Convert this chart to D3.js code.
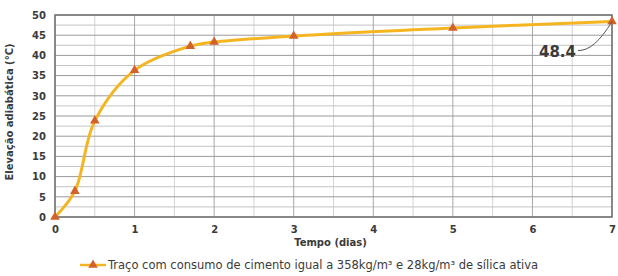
<!DOCTYPE html>
<html>
<head>
<meta charset="utf-8">
<script src="https://cdn.jsdelivr.net/npm/d3@7"></script>
<style>
  body { margin: 0; background: #fff; }
  text { font-family: "DejaVu Sans", sans-serif; font-weight: bold; fill: #3a3a3a; }
</style>
</head>
<body>
<div id="chart"></div>
<script>
// data
const days = [0, 0.25, 0.5, 1, 1.7, 2, 3, 5, 7];
const temps = [0, 6.4, 23.8, 36.3, 42.3, 43.3, 44.8, 46.8, 48.4];
const xTicks = [0, 1, 2, 3, 4, 5, 6, 7];
const yTicks = [0, 5, 10, 15, 20, 25, 30, 35, 40, 45, 50];
const seriesName = "Traço com consumo de cimento igual a 358kg/m³ e 28kg/m³ de sílica ativa";

const W = 618, H = 276;
const margin = {top: 15, right: 6, bottom: 59, left: 55};
const width = W - margin.left - margin.right;
const height = H - margin.top - margin.bottom;

const svg = d3.select("#chart").append("svg")
    .attr("width", W)
    .attr("height", H);

const g = svg.append("g")
    .attr("transform", "translate(" + margin.left + "," + margin.top + ")");

const x = d3.scaleLinear().domain([0, 7]).range([0, width]);
const y = d3.scaleLinear().domain([0, 50]).range([height, 0]);

// minor grid
g.selectAll(".vminor")
    .data(d3.range(0.5, 7, 1))
    .enter().append("line")
    .attr("x1", d => x(d)).attr("x2", d => x(d))
    .attr("y1", 0).attr("y2", height)
    .attr("stroke", "#d4d4d4").attr("stroke-width", 1);

g.selectAll(".hminor")
    .data(d3.range(2.5, 50, 5))
    .enter().append("line")
    .attr("x1", 0).attr("x2", width)
    .attr("y1", d => y(d)).attr("y2", d => y(d))
    .attr("stroke", "#c4c4c4").attr("stroke-width", 1);

// major grid
g.selectAll(".vmajor")
    .data(xTicks)
    .enter().append("line")
    .attr("x1", d => x(d)).attr("x2", d => x(d))
    .attr("y1", 0).attr("y2", height)
    .attr("stroke", "#a8a8a8").attr("stroke-width", 1);

g.selectAll(".hmajor")
    .data(yTicks)
    .enter().append("line")
    .attr("x1", 0).attr("x2", width)
    .attr("y1", d => y(d)).attr("y2", d => y(d))
    .attr("stroke", "#9a9a9a").attr("stroke-width", 1);

// frame
g.append("rect")
    .attr("width", width).attr("height", height)
    .attr("fill", "none").attr("stroke", "#707070").attr("stroke-width", 1.5);

// axes
const xAxis = d3.axisBottom(x).tickValues(xTicks).tickFormat(d3.format("d")).tickSize(0).tickPadding(9);
const yAxis = d3.axisLeft(y).tickValues(yTicks).tickFormat(d3.format("d")).tickSize(0).tickPadding(9);

g.append("g")
    .attr("transform", "translate(0," + height + ")")
    .call(xAxis)
    .call(a => a.select(".domain").remove())
    .selectAll("text").style("font-size", "10px");

g.append("g")
    .call(yAxis)
    .call(a => a.select(".domain").remove())
    .selectAll("text").style("font-size", "10px");

svg.append("text")
    .attr("x", margin.left + width / 2 - 3)
    .attr("y", 246)
    .attr("text-anchor", "middle")
    .style("font-size", "10px")
    .text("Tempo (dias)");

svg.append("text")
    .attr("transform", "translate(13," + (margin.top + height / 2 - 4) + ") rotate(-90)")
    .attr("text-anchor", "middle")
    .style("font-size", "10px")
    .text("Elevação adiabática (°C)");

// series
const pts = days.map((d, i) => ({d: d, t: temps[i]}));

const line = d3.line()
    .x(p => x(p.d))
    .y(p => y(p.t))
    .curve(d3.curveCatmullRom.alpha(0.5));

g.append("path")
    .datum(pts)
    .attr("fill", "none")
    .attr("stroke", "#f4b521")
    .attr("stroke-width", 3)
    .attr("d", line);

const tri = d3.symbol().type(d3.symbolTriangle).size(40);

g.selectAll(".mk")
    .data(pts)
    .enter().append("path")
    .attr("d", tri)
    .attr("transform", p => "translate(" + x(p.d) + "," + y(p.t) + ")")
    .attr("fill", "#d2622a");

// data label with leader
const last = pts[pts.length - 1];
g.append("path")
    .attr("d", "M" + (x(last.d) - 34) + "," + (y(last.t) + 29) +
               " Q" + (x(last.d) - 18) + "," + (y(last.t) + 30) + " " + x(last.d) + "," + y(last.t))
    .attr("fill", "none").attr("stroke", "#555").attr("stroke-width", 1);

g.append("text")
    .attr("x", x(last.d) - 36)
    .attr("y", y(last.t) + 36)
    .attr("text-anchor", "end")
    .style("font-size", "15px")
    .text(d3.format(".1f")(last.t));

// legend
const lg = svg.append("g").attr("transform", "translate(80,265)");
lg.append("line").attr("x1", 0).attr("x2", 26).attr("y1", 0).attr("y2", 0)
    .attr("stroke", "#f4b521").attr("stroke-width", 2.5);
lg.append("path").attr("d", tri).attr("transform", "translate(13,0)").attr("fill", "#d2622a");
lg.append("text").attr("x", 28).attr("y", 4)
    .style("font-size", "11.5px").style("font-weight", "normal")
    .text(seriesName);
</script>
</body>
</html>
